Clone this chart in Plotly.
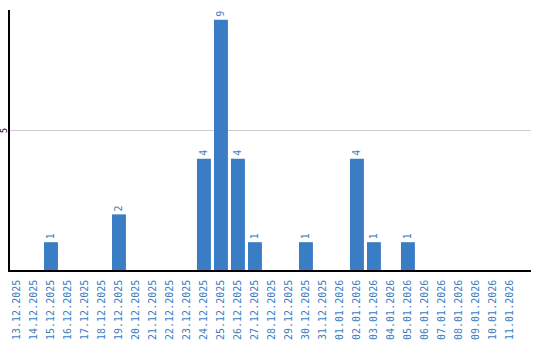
import plotly.graph_objects as go

dates = ["13.12.2025","14.12.2025","15.12.2025","16.12.2025","17.12.2025","18.12.2025",
         "19.12.2025","20.12.2025","21.12.2025","22.12.2025","23.12.2025","24.12.2025",
         "25.12.2025","26.12.2025","27.12.2025","28.12.2025","29.12.2025","30.12.2025",
         "31.12.2025","01.01.2026","02.01.2026","03.01.2026","04.01.2026","05.01.2026",
         "06.01.2026","07.01.2026","08.01.2026","09.01.2026","10.01.2026","11.01.2026"]
values = [0,0,1,0,0,0,2,0,0,0,0,4,9,4,1,0,0,1,0,0,4,1,0,1,0,0,0,0,0,0]
labels = [str(v) if v > 0 else "" for v in values]
y_ticks = [5]

blue = "#3a7dc4"
fig = go.Figure(go.Bar(
    x=dates, y=values, text=labels, textposition="outside", textangle=-90,
    textfont=dict(color=blue, size=10, family="DejaVu Sans Mono"),
    marker=dict(color=blue, line=dict(width=0)), cliponaxis=False,
))
fig.update_layout(
    width=540, height=340, margin=dict(l=10, r=9, t=10, b=70),
    plot_bgcolor="white", paper_bgcolor="white", bargap=0.18, showlegend=False,
    uniformtext=dict(minsize=10, mode="show"),
)
fig.update_xaxes(type="category", range=[-0.41, 30.24], tickangle=-90,
                 tickfont=dict(color=blue, size=10, family="DejaVu Sans Mono"),
                 showline=True, linecolor="black", linewidth=1.5, showgrid=False,
                 ticks="", ticklabelstandoff=4, automargin=False)
fig.update_yaxes(range=[0, 9.35], tickvals=y_ticks, showticklabels=False,
                 showline=True, linecolor="black", linewidth=1.5,
                 showgrid=True, gridcolor="#cccccc", gridwidth=1, zeroline=False,
                 ticks="", automargin=False)
for t in y_ticks:
    fig.add_annotation(x=0, xref="paper", y=t, yref="y", text=str(t), showarrow=False,
                       textangle=-90, xanchor="center", xshift=-5, borderpad=0,
                       font=dict(color="black", size=8, family="DejaVu Sans"))
fig.write_html("out.html")
